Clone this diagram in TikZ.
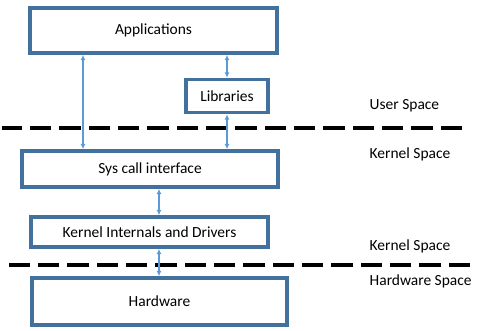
\documentclass[tikz,border=0pt]{standalone}
\usepackage{fontspec}
\setmainfont{Carlito}
\usetikzlibrary{arrows.meta}
\definecolor{boxblue}{RGB}{65,113,156}
\definecolor{arrblue}{RGB}{91,155,213}
\begin{document}
\begin{tikzpicture}[x=0.75pt,y=-0.75pt,
  layer/.style={draw=boxblue,line width=2.7pt,fill=white,inner sep=0pt,font=\fontsize{11.6}{13}\selectfont},
  link/.style={draw=arrblue,line width=1.1pt,{Latex[length=4pt,width=3.8pt]}-{Latex[length=4pt,width=3.8pt]}},
  sep/.style={line width=2.8pt,dash pattern=on 16pt off 6pt},
  side/.style={anchor=west,font=\fontsize{11.6}{13}\selectfont}]
\useasboundingbox (0,0) rectangle (479,330);
\node[layer,minimum width=247*0.75pt,minimum height=45*0.75pt] (app) at (153.5,30.5) {Applications};
\node[layer,minimum width=82*0.75pt,minimum height=33*0.75pt] (lib) at (227,96) {Libraries};
\node[layer,minimum width=256*0.75pt,minimum height=36*0.75pt] (sys) at (150,169) {Sys call interface};
\node[layer,minimum width=237*0.75pt,minimum height=30*0.75pt] (ker) at (149.5,232) {Kernel Internals and Drivers};
\node[layer,minimum width=255*0.75pt,minimum height=47*0.75pt] (hw) at (159.5,301.5) {Hardware};
\coordinate (d1a) at (2,128); \coordinate (d1b) at (462,128);
\coordinate (d2a) at (2,265); \coordinate (d2b) at (470,265);
\draw[sep] (d1b) -- (d1a);
\draw[sep] (d2b) -- (d2a);
\draw[link] (app.south -| 83,0) -- (sys.north -| 83,0);
\draw[link] (app.south -| lib) -- (lib.north);
\draw[link] (lib.south) -- (sys.north -| lib);
\draw[link] (sys.south -| 159,0) -- (ker.north -| 159,0);
\draw[link] (ker.south -| 159,0) -- (hw.north -| 159,0);
\node[side] (us) at (365,106) {User Space};
\node[side] (ks1) at (365,154) {Kernel Space};
\node[side] (ks2) at (365,246) {Kernel Space};
\node[side] (hs) at (365,281) {Hardware Space};
\end{tikzpicture}
\end{document}
